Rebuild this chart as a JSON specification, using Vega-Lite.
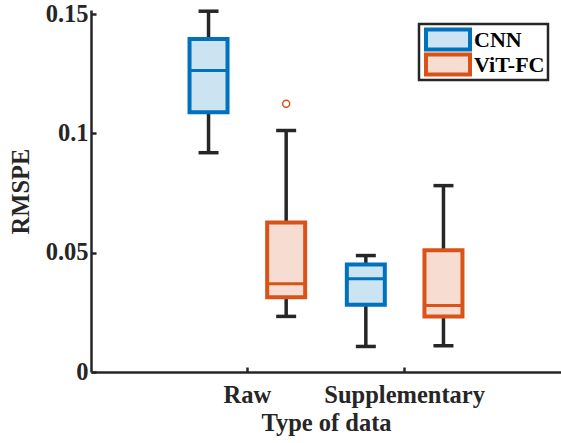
{
  "$schema": "https://vega.github.io/schema/vega-lite/v6.json",
  "autosize": "none",
  "width": 470,
  "height": 362,
  "padding": {"left": 91, "top": 10, "right": 0, "bottom": 71},
  "background": "white",
  "config": {
    "view": {"stroke": null},
    "font": "Liberation Serif",
    "axis": {"grid": false, "domainColor": "#262626", "domainWidth": 2.5, "tickColor": "#262626", "tickWidth": 2.5, "labelColor": "#262626", "titleColor": "#262626", "labelFont": "Liberation Serif", "titleFont": "Liberation Serif", "labelFontWeight": "bold", "titleFontWeight": "bold", "labelFontSize": 24.5, "titleFontSize": 24.5}
  },
  "data": {
    "values": [
      {"type": "Raw", "model": "CNN", "min": 0.0919, "q1": 0.1088, "median": 0.1263, "q3": 0.1395, "max": 0.1512, "outlier": null},
      {"type": "Raw", "model": "ViT-FC", "min": 0.0233, "q1": 0.0313, "median": 0.0370, "q3": 0.0627, "max": 0.1012, "outlier": 0.1124},
      {"type": "Supplementary", "model": "CNN", "min": 0.0107, "q1": 0.0282, "median": 0.0391, "q3": 0.0450, "max": 0.0488, "outlier": null},
      {"type": "Supplementary", "model": "ViT-FC", "min": 0.0110, "q1": 0.0233, "median": 0.0279, "q3": 0.0510, "max": 0.0781, "outlier": null}
    ]
  },
  "encoding": {
    "x": {"field": "type", "type": "nominal", "title": "Type of data",
      "scale": {"type": "band", "paddingInner": 0, "paddingOuter": 0.494},
      "axis": {"labelAngle": 0, "tickSize": -5, "labelPadding": 16, "titlePadding": 5}},
    "xOffset": {"field": "model", "type": "nominal", "scale": {"domain": ["CNN", "ViT-FC"], "paddingInner": 0, "paddingOuter": 0.013}}
  },
  "layer": [
    {
      "mark": {"type": "rule", "color": "#262626", "strokeWidth": 3.5},
      "encoding": {
        "y": {"field": "min", "type": "quantitative", "title": "RMSPE",
          "scale": {"domain": [0, 0.1517], "nice": false, "zero": true},
          "axis": {"values": [0, 0.05, 0.1, 0.15], "format": "~g", "tickSize": -5, "labelPadding": 8, "titleX": -70, "titleBaseline": "middle"}},
        "y2": {"field": "q1"}
      }
    },
    {
      "mark": {"type": "rule", "color": "#262626", "strokeWidth": 3.5},
      "encoding": {
        "y": {"field": "q3", "type": "quantitative"},
        "y2": {"field": "max"}
      }
    },
    {
      "mark": {"type": "tick", "color": "#262626", "opacity": 1, "thickness": 3.5, "size": 20, "orient": "horizontal"},
      "encoding": {"y": {"field": "min", "type": "quantitative"}}
    },
    {
      "mark": {"type": "tick", "color": "#262626", "opacity": 1, "thickness": 3.5, "size": 20, "orient": "horizontal"},
      "encoding": {"y": {"field": "max", "type": "quantitative"}}
    },
    {
      "mark": {"type": "bar", "size": 38, "strokeWidth": 4, "fillOpacity": 1},
      "encoding": {
        "y": {"field": "q1", "type": "quantitative"},
        "y2": {"field": "q3"},
        "fill": {"field": "model", "type": "nominal", "title": null,
          "scale": {"domain": ["CNN", "ViT-FC"], "range": ["#CCE3F2", "#F7DDD1"]},
          "legend": {"orient": "none", "legendX": 328, "legendY": 14, "symbolType": "M-3.67,-1.67L3.67,-1.67L3.67,1.67L-3.67,1.67Z", "symbolSize": 144, "symbolOffset": 15, "symbolStrokeWidth": 4, "symbolFillOpacity": 1, "labelFont": "Liberation Serif", "labelFontWeight": "bold", "labelFontSize": 22, "labelColor": "#000000", "labelOffset": 15, "strokeColor": "#262626", "padding": 3, "rowPadding": 0, "clipHeight": 25, "fillColor": "white",
            "encode": {"legend": {"update": {"strokeWidth": {"value": 2.5}}}}}},
        "stroke": {"field": "model", "type": "nominal", "title": null,
          "scale": {"domain": ["CNN", "ViT-FC"], "range": ["#0072BD", "#D95319"]}}
      }
    },
    {
      "mark": {"type": "tick", "thickness": 3, "size": 38, "orient": "horizontal", "opacity": 1},
      "encoding": {
        "y": {"field": "median", "type": "quantitative"},
        "color": {"field": "model", "type": "nominal", "legend": null, "scale": {"domain": ["CNN", "ViT-FC"], "range": ["#0072BD", "#D95319"]}}
      }
    },
    {
      "transform": [{"filter": "datum.outlier != null"}],
      "mark": {"type": "point", "shape": "circle", "filled": false, "size": 50, "strokeWidth": 1.5, "opacity": 1, "color": "#D95319"},
      "encoding": {"y": {"field": "outlier", "type": "quantitative"}}
    }
  ]
}
